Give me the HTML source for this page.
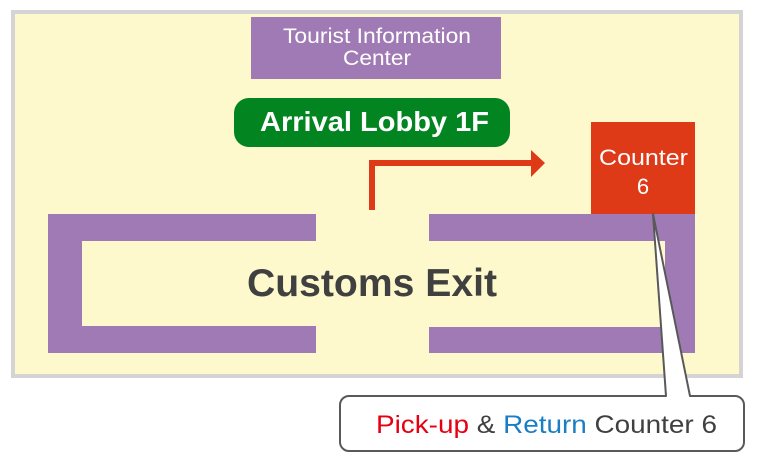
<!DOCTYPE html>
<html><head><meta charset="utf-8"><style>
html,body{margin:0;padding:0;background:#fff;width:760px;height:463px;overflow:hidden}
svg{display:block;font-family:"Liberation Sans",Arial,sans-serif}
</style></head><body>
<svg width="760" height="463" viewBox="0 0 760 463">
<rect x="13" y="12" width="728" height="364" fill="#fef9cc" stroke="#d4d4d4" stroke-width="4"/>
<rect x="251" y="17" width="250" height="62" fill="#a07ab4"/>
<text x="283" y="43" font-size="21" fill="#fff" textLength="188" lengthAdjust="spacingAndGlyphs">Tourist Information</text>
<text x="343" y="65" font-size="21" fill="#fff" textLength="68" lengthAdjust="spacingAndGlyphs">Center</text>
<rect x="234" y="98" width="276" height="49" rx="15" fill="#028521"/>
<text x="260" y="131" font-size="28" font-weight="bold" fill="#fff" textLength="229" lengthAdjust="spacingAndGlyphs">Arrival Lobby 1F</text>
<path d="M372 210 V163 H532" fill="none" stroke="#df3a18" stroke-width="6"/>
<polygon points="531,150 545,163 531,177" fill="#df3a18"/>
<rect x="591" y="122" width="104" height="92" fill="#df3a18"/>
<text x="599" y="165" font-size="22" fill="#fff" textLength="89" lengthAdjust="spacingAndGlyphs">Counter</text>
<text x="643" y="194" font-size="22" fill="#fff" text-anchor="middle">6</text>
<g fill="#a07ab4">
<rect x="48" y="214" width="268" height="27"/>
<rect x="48" y="214" width="34" height="139"/>
<rect x="48" y="326" width="268" height="27"/>
<rect x="429" y="214" width="266" height="27"/>
<rect x="665" y="214" width="30" height="139"/>
<rect x="429" y="327" width="266" height="26"/>
</g>
<text x="247" y="296" font-size="39" font-weight="bold" fill="#404040" textLength="250" lengthAdjust="spacingAndGlyphs">Customs Exit</text>
<path d="M349 396 H666 L653 214 L690 396 H735 a9 9 0 0 1 9 9 V442 a9 9 0 0 1 -9 9 H349 a9 9 0 0 1 -9 -9 V405 a9 9 0 0 1 9 -9 Z" fill="#fff" stroke="#595959" stroke-width="2" stroke-linejoin="round"/>
<text x="376" y="433" font-size="25" fill="#404040" textLength="341" lengthAdjust="spacingAndGlyphs"><tspan fill="#e60012">Pick-up</tspan> &amp; <tspan fill="#1a7ec4">Return</tspan> Counter 6</text>
</svg>
</body></html>
